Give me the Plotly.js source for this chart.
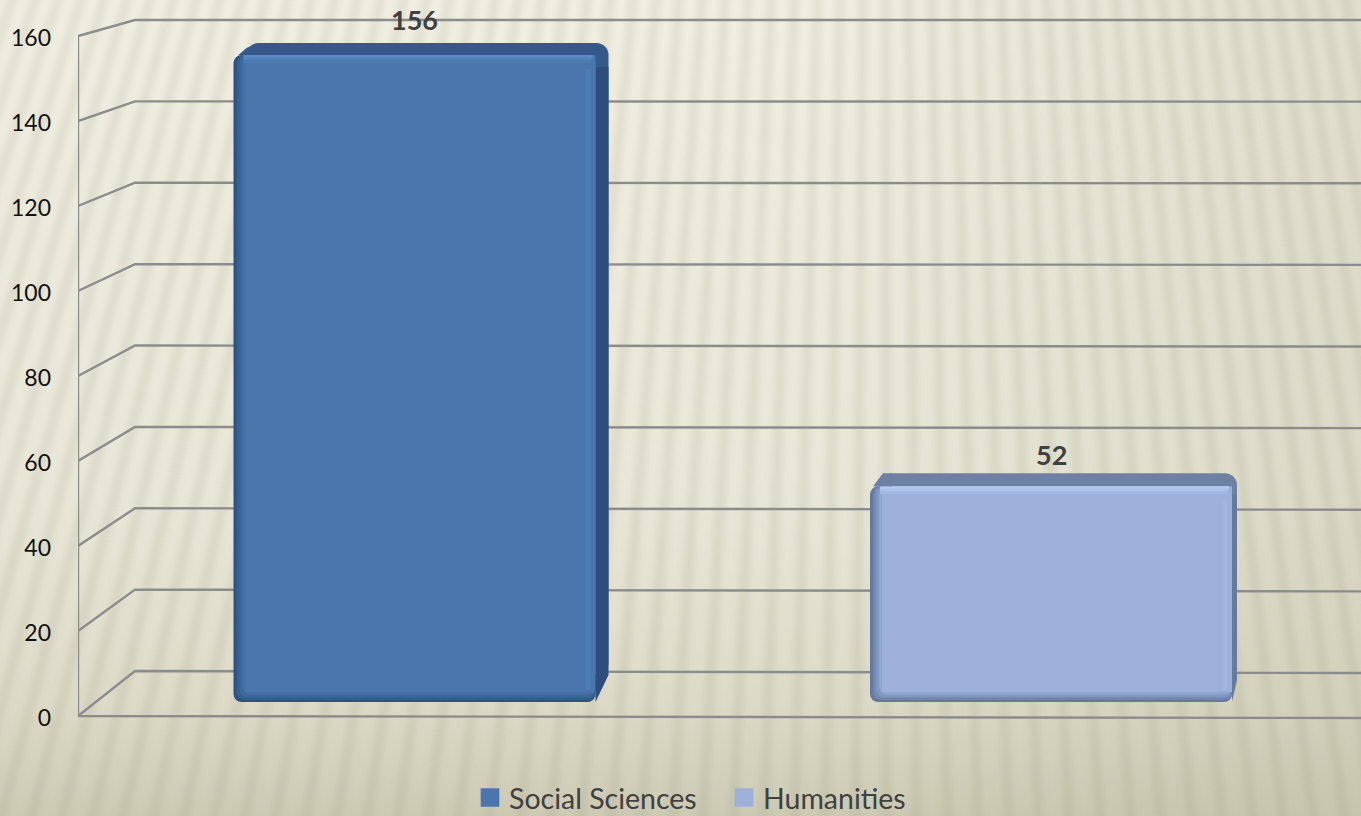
<!DOCTYPE html>
<html>
<head>
<meta charset="utf-8">
<script src="https://cdn.plot.ly/plotly-3.0.1.min.js"></script>
<style>
html,body{margin:0;padding:0;width:1361px;height:816px;overflow:hidden;background:#e8e6d6}
#bg{position:absolute;left:0;top:0}
#chart{position:absolute;left:0;top:0;width:1361px;height:816px}
</style>
</head>
<body>
<svg id="bg" width="1361" height="816" xmlns="http://www.w3.org/2000/svg">
  <defs>
    <linearGradient id="v" x1="0" y1="0" x2="0" y2="1">
      <stop offset="0" stop-color="#f0efe2"/>
      <stop offset="0.6" stop-color="#e9e7d8"/>
      <stop offset="0.86" stop-color="#dddbc8"/>
      <stop offset="1" stop-color="#cdcab4"/>
    </linearGradient>
    <linearGradient id="h" x1="0" y1="0" x2="1" y2="0">
      <stop offset="0.6" stop-color="#b9b79c" stop-opacity="0"/>
      <stop offset="1" stop-color="#b9b79c" stop-opacity="0.28"/>
    </linearGradient>
    <filter id="soft" x="-5%" y="-5%" width="110%" height="110%"><feGaussianBlur stdDeviation="3.5"/></filter>
  </defs>
  <rect width="1361" height="816" fill="url(#v)"/>
  <rect width="1361" height="816" fill="url(#h)"/>
  <g id="stripes" filter="url(#soft)"></g>
</svg>
<div id="chart"></div>
<script>
// ---- data ----
const categories = ['Social Sciences', 'Humanities'];
const values = [156, 52];
const yTicks = [0, 20, 40, 60, 80, 100, 120, 140, 160];

// ---- background stripes (decoration, fan towards a far vanishing point) ----
(function () {
  const g = document.getElementById('stripes');
  const xv = 886, yv = -2500, step = 0.0092;
  let s = '';
  for (let k = -130; k <= 75; k++) {
    const m = k * step;
    const x0 = xv + m * (-20 - yv), x1 = xv + m * (840 - yv);
    s += '<line x1="' + x0 + '" y1="-20" x2="' + x1 + '" y2="840" stroke="#8f8d6c" stroke-opacity="0.15" stroke-width="10"/>';
  }
  g.innerHTML = s;
})();

// ---- geometry helpers ----
const W = 1361, H = 816;
const front0 = 716, front160 = 36;          // front-axis pixels
const back0 = 671, back160 = 20;            // back-wall pixels
const xAxisLeft = 78, wallLeft = 135;
const barBase = 702, pxPerUnit = 4.147;
const centers = [414.5, 1051], spacing = 636.5, barW = 362;
const xOf = px => 1 + (px - centers[0]) / spacing;
const frontVal = py => (front0 - py) / ((front0 - front160) / 160);
const barVal = py => (barBase - py) / pxPerUnit;

// ---- grid ----
const traces = [];
const gridLine = { color: '#8c8c8c', width: 2.4 };
yTicks.forEach(t => {
  const by = back0 - (back0 - back160) * t / 160;
  traces.push({
    type: 'scatter', mode: 'lines', xaxis: 'x', yaxis: 'y', showlegend: false, hoverinfo: 'skip',
    x: [xOf(xAxisLeft), xOf(wallLeft), xOf(W)],
    y: [t, frontVal(by), frontVal(by + 2 * (1 - t / 160))],
    line: gridLine
  });
});
traces.push({
  type: 'scatter', mode: 'lines', xaxis: 'x', yaxis: 'y', showlegend: false, hoverinfo: 'skip',
  x: [xOf(W), xOf(xAxisLeft), xOf(xAxisLeft)],
  y: [frontVal(718), 0, yTicks[yTicks.length - 1]],
  line: gridLine
});

// ---- bars ----
function rect(i) {
  return { L: centers[i] - barW / 2, R: centers[i] + barW / 2, T: barBase - values[i] * pxPerUnit, B: barBase };
}
function barPart(i, L, R, T, B, color, radius, legend) {
  traces.push({
    type: 'bar', xaxis: 'x', yaxis: 'y2', hoverinfo: 'skip',
    x: [(xOf(L) + xOf(R)) / 2], width: [(R - L) / spacing],
    name: categories[i], showlegend: !!legend,
    base: [barVal(B)], y: [barVal(T) - barVal(B)],
    marker: { color, cornerradius: radius, line: { width: 0 } }
  });
}
function poly(pts, color) {
  traces.push({
    type: 'scatter', mode: 'lines', xaxis: 'x', yaxis: 'y2', showlegend: false, hoverinfo: 'skip',
    x: pts.map(p => xOf(p[0])), y: pts.map(p => barVal(p[1])),
    fill: 'toself', fillcolor: color, line: { width: 0, color: color }
  });
}
const styles = [
  { top: '#36598c', side: '#2d4e7c', ramp: ['#2f5282', '#36608f', '#3d689c', '#4470a6', '#4a76ad'],
    hi: ['#5a89c4', '#5281bb', '#4d7bb3'], rightHi: '#4e7cb5',
    dl: 13, dr: 13, up: 12, sideBottom: 27, sideColorTop: 12 },
  { top: '#6f81a3', side: '#66799f', ramp: ['#66799f', '#7389b0', '#8198c2', '#8fa6cf', '#9cb0d9'],
    hi: ['#b4c9f1', '#abc0ea', '#a3b8e1'], rightHi: '#a1b6de',
    dl: 10, dr: 5, up: 13, sideBottom: 22, sideColorTop: 8 }
];
categories.forEach((c, i) => {
  const f = rect(i), s = styles[i];
  // back (depth) box
  barPart(i, f.L + s.dl, f.R + s.dr, f.T - s.up, f.B - s.sideBottom, s.top, 12);
  barPart(i, f.R, f.R + s.dr, f.T + s.sideColorTop, f.B - s.sideBottom, s.side, 0);
  // front face: nested ramp from the dark left/bottom edge to the face colour
  s.ramp.forEach((col, k) => {
    const last = k === s.ramp.length - 1;
    barPart(i, f.L + k * 3, f.R, f.T, f.B - k * 2.5, col, last ? 0 : 8, last);
  });
  // right highlight
  barPart(i, f.R - 10, f.R - 5, f.T + 14, f.B - 12, s.rightHi, 0);
  // top highlight
  s.hi.forEach((col, k) => {
    barPart(i, f.L + 10, f.R - 3 - k, f.T + k * 2.5, f.T + k * 2.5 + 3, col, 0);
  });
  // corners between the faces
  if (i === 0) {
    poly([[f.R, f.B], [f.R + s.dr, f.B - s.sideBottom], [f.R, f.B - s.sideBottom]], s.side);
    poly([[f.L + 5, f.T], [f.L + 13, f.T - 7], [f.L + 24, f.T - s.up], [f.L + 24, f.T]], s.top);
  } else {
    poly([[f.R, f.B], [f.R + s.dr, f.B - s.sideBottom], [f.R, f.B - s.sideBottom]], s.side);
    poly([[f.L + 3, f.T], [f.L + 13, f.T - s.up], [f.L + 22, f.T - s.up], [f.L + 22, f.T]], s.top);
  }
});

const layout = {
  width: W, height: H,
  margin: { l: 0, r: 0, t: 0, b: 0, pad: 0, autoexpand: false },
  paper_bgcolor: 'rgba(0,0,0,0)', plot_bgcolor: 'rgba(0,0,0,0)',
  barmode: 'overlay',
  font: { family: 'Lato, sans-serif', color: '#404040' },
  xaxis: {
    domain: [xAxisLeft / W, 1], range: [xOf(xAxisLeft), xOf(W)],
    showgrid: false, zeroline: false, showline: false, showticklabels: false, ticks: '', fixedrange: true
  },
  yaxis: {
    domain: [0, 1], range: [frontVal(H), frontVal(0)],
    tickvals: yTicks, ticktext: yTicks.map(String),
    tickfont: { family: 'Lato, sans-serif', size: 23, color: '#111111' },
    ticks: '', ticklabelstandoff: 26, ticklabelshift: 2,
    showgrid: false, zeroline: false, showline: false, fixedrange: true
  },
  yaxis2: {
    overlaying: 'y', range: [barVal(H), barVal(0)],
    showgrid: false, zeroline: false, showline: false, showticklabels: false, ticks: '', fixedrange: true
  },
  legend: {
    orientation: 'h', x: 469 / W, xanchor: 'left', y: (H - 798) / H, yanchor: 'middle',
    entrywidth: 209, entrywidthmode: 'pixels',
    font: { family: 'Lato, sans-serif', size: 28.5, color: '#404040' },
    bgcolor: 'rgba(0,0,0,0)'
  },
  annotations: values.map((v, i) => ({
    x: 1 + i, y: v, xref: 'x', yref: 'y2', text: String(v), showarrow: false,
    xanchor: 'center', yanchor: 'bottom', yshift: i === 0 ? 17.5 : 13,
    font: { family: 'Lato, sans-serif', size: 27, color: '#404040', weight: 700 }
  })),
  showlegend: true
};

Plotly.newPlot('chart', traces, layout, { displayModeBar: false, staticPlot: true }).then(() => {
  document.querySelectorAll('#chart .legend .legendsymbols path').forEach(p => {
    p.setAttribute('transform', 'translate(21,0) scale(1.55)');
  });
});
</script>
</body>
</html>
